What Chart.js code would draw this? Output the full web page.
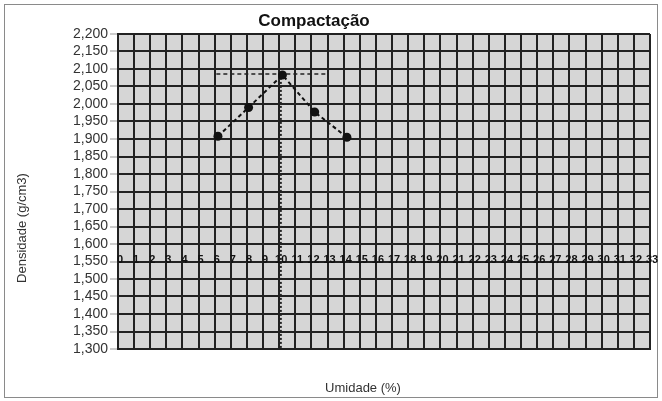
<!DOCTYPE html>
<html lang="pt">
<head>
    <meta charset="UTF-8">
    <title>Compactação</title>
    <script src="https://cdn.jsdelivr.net/npm/chart.js@4.4.1/dist/chart.umd.min.js"></script>
    <style>
        body { margin: 0; background: #fff; }
        canvas { display: block; }
    </style>
</head>
<body>
    <canvas id="compChart" width="662" height="401"></canvas>

<script>
    // data
    const umidade = [6.2, 8.1, 10.2, 12.2, 14.2];            // %
    const densidade = [1.908, 1.990, 2.083, 1.977, 1.905];  // g/cm3

    // dashed guide lines (max density / optimum moisture)
    const linhaMaxX = [6.1, 13.0];
    const linhaMaxY = [2.086, 2.086];
    const linhaOtimaX = [10.1, 10.1];
    const linhaOtimaY = [2.086, 1.300];

    const xTicks = Array.from({length: 34}, (_, i) => i);   // 0 .. 33 labels
    const yMin = 1.3, yMax = 2.2, yStep = 0.05;
    const xLabelRow = 1.55;   // the numbers sit on this row

    const toPoints = (xs, ys) => xs.map((x, i) => ({x: x, y: ys[i]}));

    // grey plot background + all the loose text
    const decor = {
        id: 'decor',
        beforeDraw(chart) {
            const a = chart.chartArea, ctx = chart.ctx;
            ctx.save();
            ctx.fillStyle = '#d6d6d6';
            ctx.fillRect(a.left, a.top, a.right - a.left, a.bottom - a.top);
            ctx.restore();
        },
        afterDraw(chart) {
            const ctx = chart.ctx;
            const xs = chart.scales.x, ys = chart.scales.y;
            ctx.save();
            // outer frame
            ctx.strokeStyle = '#8a8a8a';
            ctx.lineWidth = 1;
            ctx.strokeRect(4.5, 4.5, 653, 393);

            ctx.fillStyle = '#111';
            ctx.textAlign = 'center';
            ctx.textBaseline = 'middle';
            ctx.font = 'bold 17px Arial, "Liberation Sans"';
            ctx.fillText('Compactação', 314, 21);

            ctx.fillStyle = '#333';
            ctx.font = '13px Arial, "Liberation Sans"';
            ctx.fillText('Umidade (%)', 363, 388);

            ctx.save();
            ctx.translate(22, 228);
            ctx.rotate(-Math.PI / 2);
            ctx.fillText('Densidade (g/cm3)', 0, 0);
            ctx.restore();

            // x labels across the 1,550 row
            ctx.fillStyle = '#111';
            ctx.font = 'bold 11px "Liberation Sans Narrow", Arial';
            const yRow = ys.getPixelForValue(xLabelRow) - 2;
            xTicks.forEach(v => {
                ctx.fillText(String(v), xs.getPixelForValue(v) + 2, yRow);
            });
            ctx.restore();
        }
    };

    const ctx = document.getElementById('compChart').getContext('2d');
    new Chart(ctx, {
        type: 'scatter',
        data: {
            datasets: [{
                label: 'Densidade',
                data: toPoints(umidade, densidade),
                showLine: true,
                borderColor: '#111',
                borderWidth: 2,
                borderDash: [4, 3],
                backgroundColor: '#111',
                pointRadius: 4.5,
                pointBorderWidth: 0,
                order: 0
            }, {
                label: 'max',
                data: toPoints(linhaMaxX, linhaMaxY),
                showLine: true,
                borderColor: '#222',
                borderWidth: 1.5,
                borderDash: [4, 3],
                pointRadius: 0,
                order: 1
            }, {
                label: 'otima',
                data: toPoints(linhaOtimaX, linhaOtimaY),
                showLine: true,
                borderColor: '#222',
                borderWidth: 2,
                borderDash: [2, 2],
                pointRadius: 0,
                order: 2
            }]
        },
        options: {
            responsive: false,
            animation: false,
            layout: { padding: { left: 0, top: 34, right: 12, bottom: 0 } },
            plugins: {
                legend: { display: false },
                tooltip: { enabled: false },
                title: { display: false }
            },
            scales: {
                x: {
                    type: 'linear',
                    min: 0,
                    max: 33,
                    ticks: { display: false, stepSize: 1 },
                    grid: { color: '#222', lineWidth: 2, drawTicks: false },
                    border: { color: '#222', width: 2 },
                    afterFit(scale) { scale.height = 52; }
                },
                y: {
                    min: yMin,
                    max: yMax,
                    ticks: {
                        stepSize: yStep,
                        autoSkip: false,
                        color: '#333',
                        font: { family: 'Arial, "Liberation Sans"', size: 14 },
                        padding: 2,
                        callback: v => (Math.round(v * 1000) / 1000).toFixed(3).replace('.', ',')
                    },
                    grid: { color: '#222', lineWidth: 2, tickLength: 8, tickColor: '#999', tickWidth: 1 },
                    border: { color: '#222', width: 2 },
                    afterFit(scale) { scale.width = 118; }
                }
            }
        },
        plugins: [decor]
    });
</script>
</body>
</html>
